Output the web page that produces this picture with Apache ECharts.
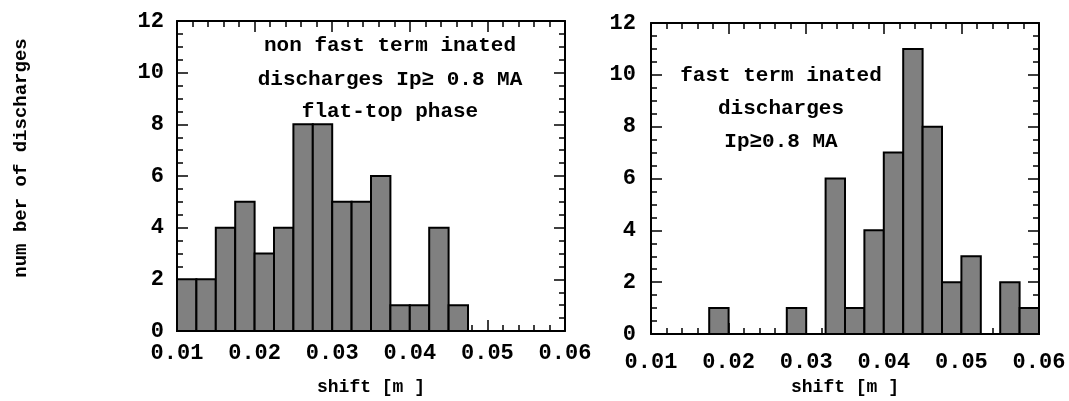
<!DOCTYPE html>
<html>
<head>
<meta charset="utf-8">
<script src="https://cdn.jsdelivr.net/npm/echarts@6/dist/echarts.min.js"></script>
<style>
  html, body { margin: 0; background: #fff; }
  #chart { width: 1069px; height: 401px; }
</style>
</head>
<body>
<div id="chart"></div>
<script>
// histogram bins, width 0.0025 m
const binEdges = [0.01, 0.0125, 0.015, 0.0175, 0.02, 0.0225, 0.025, 0.0275, 0.03, 0.0325,
  0.035, 0.0375, 0.04, 0.0425, 0.045, 0.0475, 0.05, 0.0525, 0.055, 0.0575, 0.06]
const leftCounts = [2, 2, 4, 5, 3, 4, 8, 8, 5, 5, 6, 1, 1, 4, 1]
const rightCounts = [0, 0, 0, 1, 0, 0, 0, 1, 0, 6, 1, 4, 7, 11, 8, 2, 3, 0, 2, 1]

const yLabel = 'num ber of discharges'
const xLabel = 'shift [m ]'
const leftNote = ['non fast term inated', 'discharges Ip\u2265 0.8 MA', 'flat-top phase']
const rightNote = ['fast term inated', 'discharges', 'Ip\u22650.8 MA']

const FONT = '"Liberation Mono", "Courier New", monospace'
const chart = echarts.init(document.getElementById('chart'))

const toBins = counts =>
  counts.map((c, i) => [binEdges[i], binEdges[i + 1], c]).filter(d => d[2] > 0)

const renderBin = (params, api) => {
  const top = api.coord([api.value(0), api.value(2)])
  const bot = api.coord([api.value(1), 0])
  return {
    type: 'rect',
    shape: { x: top[0], y: top[1], width: bot[0] - top[0], height: bot[1] - top[1] },
    style: { fill: '#808080', stroke: '#000', lineWidth: 2 },
  }
}

const lineStyle = { color: '#000', width: 2 }
const tickStyle = { color: '#000', width: 1.5 }
const labelStyle = { color: '#000', fontFamily: FONT, fontWeight: 'bold', fontSize: 22 }

const xAxes = (g, labelMargin, nameGap) => [
  {
    type: 'value', gridIndex: g, position: 'bottom',
    min: 0.01, max: 0.06, interval: 0.01,
    axisLine: { show: true, onZero: false, lineStyle },
    axisTick: { show: true, inside: true, length: 11, lineStyle: tickStyle },
    minorTick: { show: true, splitNumber: 5, length: 6, lineStyle: tickStyle },
    splitLine: { show: false },
    axisLabel: { ...labelStyle, margin: labelMargin, showMinLabel: true, showMaxLabel: true,
      formatter: v => v.toFixed(2) },
    name: xLabel, nameLocation: 'middle', nameGap,
    nameTextStyle: { ...labelStyle, fontSize: 18 },
  },
  {
    type: 'value', gridIndex: g, position: 'top',
    min: 0.01, max: 0.06, interval: 0.01,
    axisLine: { show: true, onZero: false, lineStyle },
    axisTick: { show: true, inside: true, length: 11, lineStyle: tickStyle },
    minorTick: { show: true, splitNumber: 5, length: 6, lineStyle: tickStyle },
    splitLine: { show: false },
    axisLabel: { show: false },
  },
]

const yAxes = (g, labelMargin) => [
  {
    type: 'value', gridIndex: g, position: 'left',
    min: 0, max: 12, interval: 2,
    axisLine: { show: true, onZero: false, lineStyle },
    axisTick: { show: true, inside: true, length: 11, lineStyle: tickStyle },
    minorTick: { show: true, splitNumber: 4, length: 6, lineStyle: tickStyle },
    splitLine: { show: false },
    axisLabel: { ...labelStyle, margin: labelMargin, showMinLabel: true, showMaxLabel: true },
  },
  {
    type: 'value', gridIndex: g, position: 'right',
    min: 0, max: 12, interval: 2,
    axisLine: { show: true, onZero: false, lineStyle },
    axisTick: { show: true, inside: true, length: 11, lineStyle: tickStyle },
    minorTick: { show: true, splitNumber: 4, length: 6, lineStyle: tickStyle },
    splitLine: { show: false },
    axisLabel: { show: false },
  },
]

const noteText = (lines, x, ys) => lines.map((t, i) => ({
  type: 'text', x, y: ys[i], silent: true,
  style: { text: t, fill: '#000', font: `bold 21px ${FONT}`, textAlign: 'center', textVerticalAlign: 'middle' },
}))

chart.setOption({
  animation: false,
  backgroundColor: '#fff',
  grid: [
    { left: 177, top: 21, width: 388, height: 310 },
    { left: 651, top: 23, width: 388, height: 312 },
  ],
  xAxis: [...xAxes(0, 11, 47), ...xAxes(1, 17, 44)],
  yAxis: [...yAxes(0, 13), ...yAxes(1, 15)],
  series: [
    { type: 'custom', xAxisIndex: 0, yAxisIndex: 0, renderItem: renderBin,
      encode: { x: [0, 1], y: 2 }, data: toBins(leftCounts) },
    { type: 'custom', xAxisIndex: 2, yAxisIndex: 2, renderItem: renderBin,
      encode: { x: [0, 1], y: 2 }, data: toBins(rightCounts) },
  ],
  graphic: [
    {
      type: 'text', x: 21, y: 158, rotation: Math.PI / 2, silent: true,
      style: { text: yLabel, fill: '#000', font: `bold 19px ${FONT}`, textAlign: 'center', textVerticalAlign: 'middle' },
    },
    ...noteText(leftNote, 390, [46, 80, 112]),
    ...noteText(rightNote, 781, [76, 109, 142]),
  ],
})
</script>
</body>
</html>
